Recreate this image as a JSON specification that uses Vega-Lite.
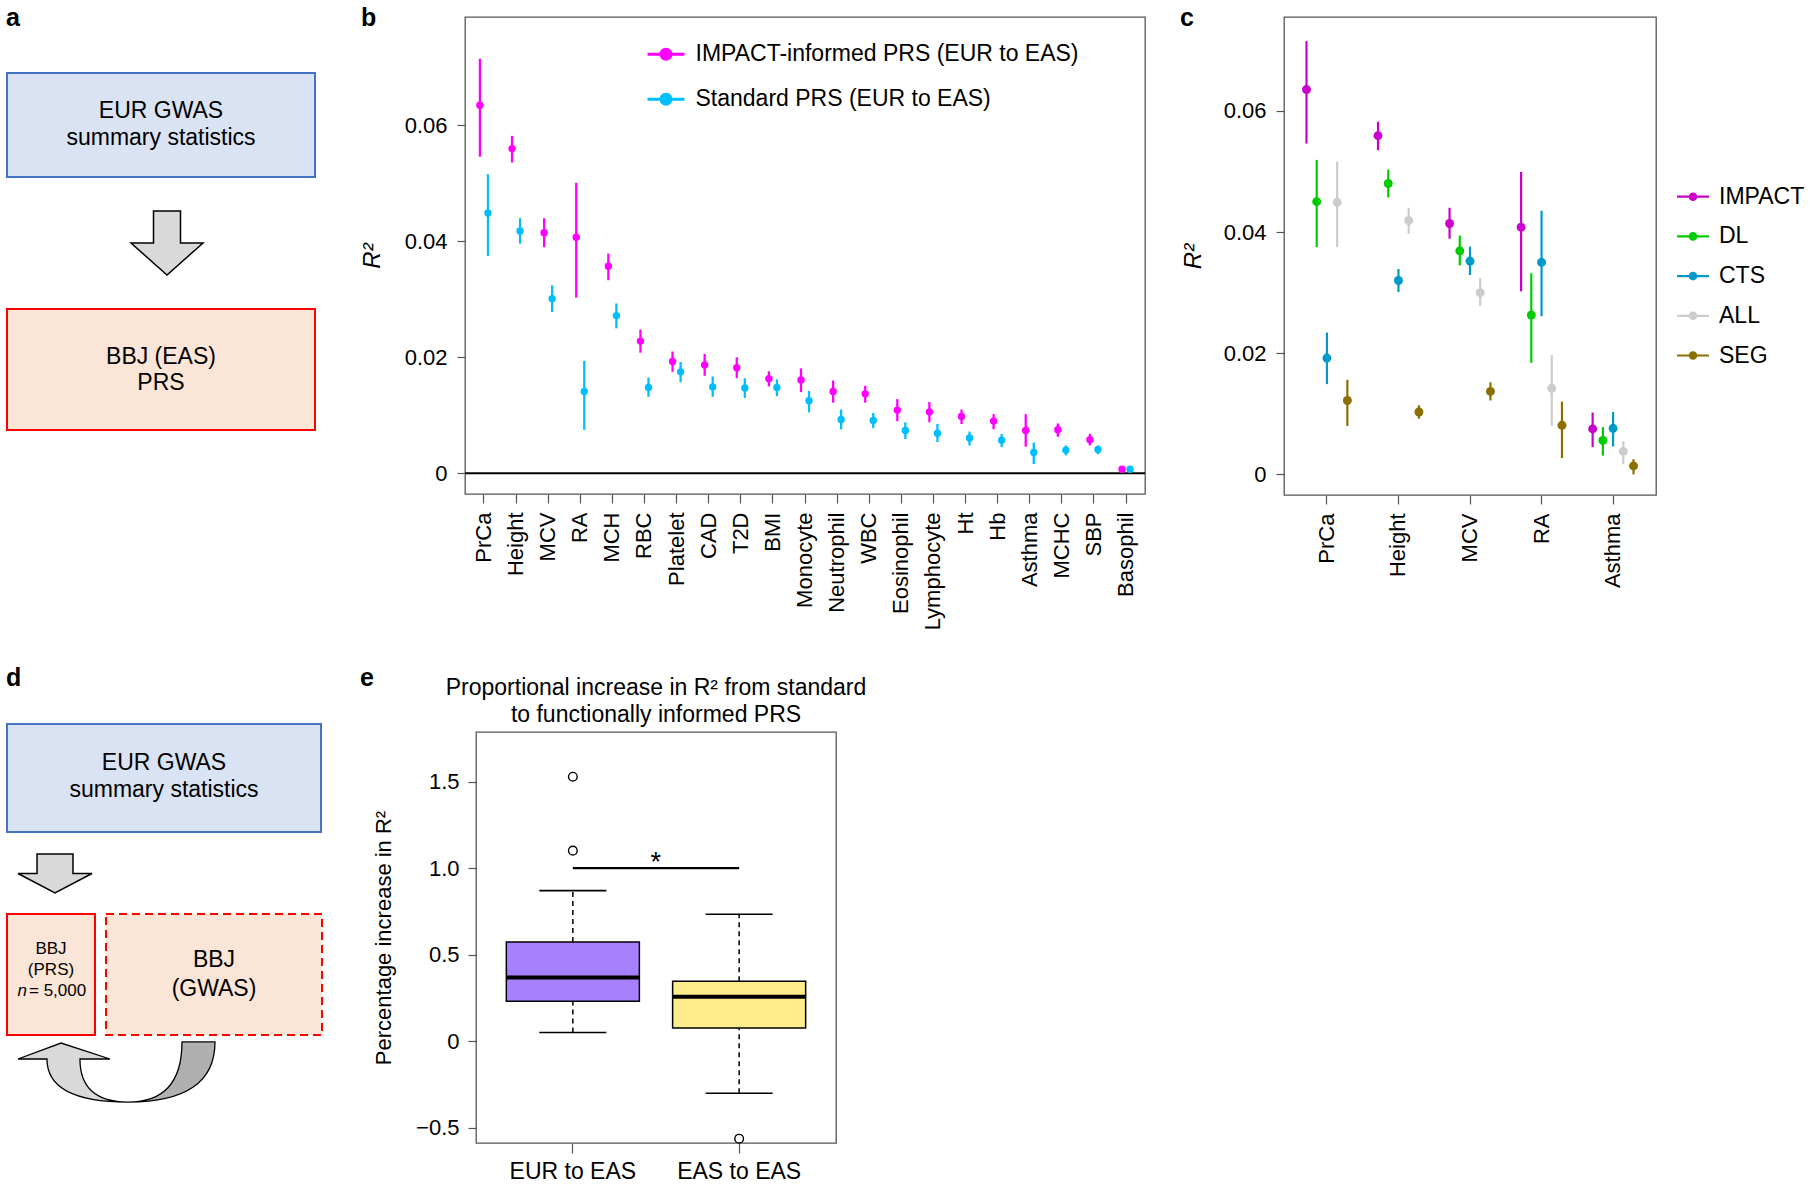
{
  "$schema": "https://vega.github.io/schema/vega-lite/v6.json",
  "padding": 0,
  "autosize": {"type": "pad"},
  "background": "white",
  "spacing": 9,
  "datasets": {
    "anchor_a": [{"x": 0, "x2": 1, "y": 0, "y2": 1}, {"x": 0, "x2": 1, "y": 650, "y2": 651}],
    "anchor_d": [{"x": 0, "x2": 1, "y": 660, "y2": 661}],
    "a_boxes": [
      {"kind": "EUR", "x": 7, "x2": 315, "y": 73, "y2": 177},
      {"kind": "BBJ", "x": 7, "x2": 315, "y": 309, "y2": 430}
    ],
    "a_arrow": [{"x": 167, "y": 243}],
    "a_text": [
      {"t": "EUR GWAS", "x": 161, "y": 111},
      {"t": "summary statistics", "x": 161, "y": 138},
      {"t": "BBJ (EAS)", "x": 161, "y": 357},
      {"t": "PRS", "x": 161, "y": 383}
    ],
    "letters_top": [
      {"t": "a", "x": 6, "y": 26},
      {"t": "b", "x": 361, "y": 26},
      {"t": "c", "x": 1180, "y": 26}
    ],
    "d_boxes": [
      {"kind": "EUR", "role": "sumstats", "x": 7, "x2": 321, "y": 724, "y2": 832},
      {"kind": "BBJ", "role": "PRS", "x": 7, "x2": 95, "y": 914, "y2": 1035},
      {"kind": "BBJ", "role": "GWAS", "x": 106, "x2": 322, "y": 914, "y2": 1035}
    ],
    "d_arrow": [{"x": 55, "y": 873.5}],
    "d_curve": [{"part": "left", "x": 116.5, "y": 1072}, {"part": "right", "x": 116.5, "y": 1072}],
    "d_text_big": [
      {"t": "EUR GWAS", "x": 164, "y": 763},
      {"t": "summary statistics", "x": 164, "y": 790},
      {"t": "BBJ", "x": 214, "y": 960},
      {"t": "(GWAS)", "x": 214, "y": 989}
    ],
    "d_text_small": [
      {"t": "BBJ", "x": 51, "y": 949},
      {"t": "(PRS)", "x": 51, "y": 970}
    ],
    "d_text_n": [{"t": "n", "x": 27, "y": 991}],
    "d_text_eq": [{"t": "= 5,000", "x": 29, "y": 991}],
    "letters_bottom": [
      {"t": "d", "x": 6, "y": 686},
      {"t": "e", "x": 360, "y": 686}
    ],
    "b": [
      {"trait": "PrCa", "method": "IMPACT", "r2": 0.0635, "lo": 0.0546, "hi": 0.0715},
      {"trait": "PrCa", "method": "Standard", "r2": 0.0449, "lo": 0.0375, "hi": 0.0516},
      {"trait": "Height", "method": "IMPACT", "r2": 0.0560, "lo": 0.0536, "hi": 0.0582},
      {"trait": "Height", "method": "Standard", "r2": 0.0418, "lo": 0.0396, "hi": 0.0440},
      {"trait": "MCV", "method": "IMPACT", "r2": 0.0415, "lo": 0.0390, "hi": 0.0440},
      {"trait": "MCV", "method": "Standard", "r2": 0.0301, "lo": 0.0278, "hi": 0.0324},
      {"trait": "RA", "method": "IMPACT", "r2": 0.0407, "lo": 0.0303, "hi": 0.0501},
      {"trait": "RA", "method": "Standard", "r2": 0.0141, "lo": 0.0075, "hi": 0.0194},
      {"trait": "MCH", "method": "IMPACT", "r2": 0.0357, "lo": 0.0333, "hi": 0.0379},
      {"trait": "MCH", "method": "Standard", "r2": 0.0272, "lo": 0.0250, "hi": 0.0293},
      {"trait": "RBC", "method": "IMPACT", "r2": 0.0228, "lo": 0.0208, "hi": 0.0248},
      {"trait": "RBC", "method": "Standard", "r2": 0.0148, "lo": 0.0132, "hi": 0.0165},
      {"trait": "Platelet", "method": "IMPACT", "r2": 0.0193, "lo": 0.0175, "hi": 0.0210},
      {"trait": "Platelet", "method": "Standard", "r2": 0.0175, "lo": 0.0157, "hi": 0.0192},
      {"trait": "CAD", "method": "IMPACT", "r2": 0.0187, "lo": 0.0168, "hi": 0.0206},
      {"trait": "CAD", "method": "Standard", "r2": 0.0149, "lo": 0.0132, "hi": 0.0167},
      {"trait": "T2D", "method": "IMPACT", "r2": 0.0182, "lo": 0.0164, "hi": 0.0200},
      {"trait": "T2D", "method": "Standard", "r2": 0.0147, "lo": 0.0130, "hi": 0.0164},
      {"trait": "BMI", "method": "IMPACT", "r2": 0.0163, "lo": 0.0150, "hi": 0.0176},
      {"trait": "BMI", "method": "Standard", "r2": 0.0148, "lo": 0.0133, "hi": 0.0162},
      {"trait": "Monocyte", "method": "IMPACT", "r2": 0.0161, "lo": 0.0140, "hi": 0.0181},
      {"trait": "Monocyte", "method": "Standard", "r2": 0.0125, "lo": 0.0105, "hi": 0.0142},
      {"trait": "Neutrophil", "method": "IMPACT", "r2": 0.0141, "lo": 0.0122, "hi": 0.0160},
      {"trait": "Neutrophil", "method": "Standard", "r2": 0.0093, "lo": 0.0076, "hi": 0.0110},
      {"trait": "WBC", "method": "IMPACT", "r2": 0.0137, "lo": 0.0122, "hi": 0.0151},
      {"trait": "WBC", "method": "Standard", "r2": 0.0091, "lo": 0.0078, "hi": 0.0104},
      {"trait": "Eosinophil", "method": "IMPACT", "r2": 0.0109, "lo": 0.0090, "hi": 0.0128},
      {"trait": "Eosinophil", "method": "Standard", "r2": 0.0074, "lo": 0.0059, "hi": 0.0088},
      {"trait": "Lymphocyte", "method": "IMPACT", "r2": 0.0106, "lo": 0.0088, "hi": 0.0123},
      {"trait": "Lymphocyte", "method": "Standard", "r2": 0.0069, "lo": 0.0054, "hi": 0.0085},
      {"trait": "Ht", "method": "IMPACT", "r2": 0.0098, "lo": 0.0085, "hi": 0.0110},
      {"trait": "Ht", "method": "Standard", "r2": 0.0061, "lo": 0.0048, "hi": 0.0072},
      {"trait": "Hb", "method": "IMPACT", "r2": 0.0090, "lo": 0.0076, "hi": 0.0102},
      {"trait": "Hb", "method": "Standard", "r2": 0.0057, "lo": 0.0045, "hi": 0.0068},
      {"trait": "Asthma", "method": "IMPACT", "r2": 0.0074, "lo": 0.0046, "hi": 0.0102},
      {"trait": "Asthma", "method": "Standard", "r2": 0.0036, "lo": 0.0016, "hi": 0.0053},
      {"trait": "MCHC", "method": "IMPACT", "r2": 0.0075, "lo": 0.0063, "hi": 0.0086},
      {"trait": "MCHC", "method": "Standard", "r2": 0.0040, "lo": 0.0031, "hi": 0.0048},
      {"trait": "SBP", "method": "IMPACT", "r2": 0.0058, "lo": 0.0048, "hi": 0.0068},
      {"trait": "SBP", "method": "Standard", "r2": 0.0041, "lo": 0.0033, "hi": 0.0048},
      {"trait": "Basophil", "method": "IMPACT", "r2": 0.0007, "lo": 0.0004, "hi": 0.0010},
      {"trait": "Basophil", "method": "Standard", "r2": 0.0007, "lo": 0.0004, "hi": 0.0010}
    ],
    "c": [
      {"trait": "PrCa", "annot": "IMPACT", "r2": 0.0635, "lo": 0.0546, "hi": 0.0715},
      {"trait": "PrCa", "annot": "DL", "r2": 0.0450, "lo": 0.0375, "hi": 0.0519},
      {"trait": "PrCa", "annot": "CTS", "r2": 0.0192, "lo": 0.0149, "hi": 0.0234},
      {"trait": "PrCa", "annot": "ALL", "r2": 0.0449, "lo": 0.0375, "hi": 0.0516},
      {"trait": "PrCa", "annot": "SEG", "r2": 0.0122, "lo": 0.0080, "hi": 0.0156},
      {"trait": "Height", "annot": "IMPACT", "r2": 0.0559, "lo": 0.0535, "hi": 0.0582},
      {"trait": "Height", "annot": "DL", "r2": 0.0480, "lo": 0.0457, "hi": 0.0503},
      {"trait": "Height", "annot": "CTS", "r2": 0.0320, "lo": 0.0301, "hi": 0.0339},
      {"trait": "Height", "annot": "ALL", "r2": 0.0419, "lo": 0.0397, "hi": 0.0440},
      {"trait": "Height", "annot": "SEG", "r2": 0.0103, "lo": 0.0092, "hi": 0.0114},
      {"trait": "MCV", "annot": "IMPACT", "r2": 0.0414, "lo": 0.0389, "hi": 0.0440},
      {"trait": "MCV", "annot": "DL", "r2": 0.0369, "lo": 0.0345, "hi": 0.0394},
      {"trait": "MCV", "annot": "CTS", "r2": 0.0352, "lo": 0.0329, "hi": 0.0376},
      {"trait": "MCV", "annot": "ALL", "r2": 0.0300, "lo": 0.0278, "hi": 0.0324},
      {"trait": "MCV", "annot": "SEG", "r2": 0.0137, "lo": 0.0122, "hi": 0.0152},
      {"trait": "RA", "annot": "IMPACT", "r2": 0.0408, "lo": 0.0302, "hi": 0.0499},
      {"trait": "RA", "annot": "DL", "r2": 0.0263, "lo": 0.0184, "hi": 0.0332},
      {"trait": "RA", "annot": "CTS", "r2": 0.0350, "lo": 0.0261, "hi": 0.0435},
      {"trait": "RA", "annot": "ALL", "r2": 0.0142, "lo": 0.0080, "hi": 0.0197},
      {"trait": "RA", "annot": "SEG", "r2": 0.0081, "lo": 0.0027, "hi": 0.0120},
      {"trait": "Asthma", "annot": "IMPACT", "r2": 0.0075, "lo": 0.0045, "hi": 0.0102},
      {"trait": "Asthma", "annot": "DL", "r2": 0.0056, "lo": 0.0031, "hi": 0.0078},
      {"trait": "Asthma", "annot": "CTS", "r2": 0.0076, "lo": 0.0046, "hi": 0.0103},
      {"trait": "Asthma", "annot": "ALL", "r2": 0.0038, "lo": 0.0017, "hi": 0.0055},
      {"trait": "Asthma", "annot": "SEG", "r2": 0.0014, "lo": 0.0000, "hi": 0.0025}
    ],
    "ebox": [
      {"group": "EUR to EAS", "lower": 0.051, "q1": 0.231, "median": 0.369, "q3": 0.574, "upper": 0.870},
      {"group": "EAS to EAS", "lower": -0.300, "q1": 0.077, "median": 0.257, "q3": 0.347, "upper": 0.734}
    ],
    "eout": [
      {"group": "EUR to EAS", "value": 1.528},
      {"group": "EUR to EAS", "value": 1.101},
      {"group": "EAS to EAS", "value": -0.562}
    ],
    "esig": [{"from": "EUR to EAS", "to": "EAS to EAS", "y": 1.0, "star": "*", "ystar": 1.03}]
  },
  "vconcat": [
    {
      "hconcat": [
        {
          "width": 321,
          "height": 477,
          "view": {"stroke": null},
          "layer": [
            {
              "data": {"name": "anchor_a"},
              "mark": {"type": "rect", "fill": "white"},
              "encoding": {
                "x": {"field": "x", "type": "quantitative", "scale": {"domain": [5, 326], "nice": false, "zero": false}, "axis": null},
                "x2": {"field": "x2"},
                "y": {"field": "y", "type": "quantitative", "scale": {"domain": [17, 494], "nice": false, "zero": false, "reverse": true}, "axis": null},
                "y2": {"field": "y2"}
              }
            },
            {
              "data": {"name": "a_boxes"},
              "mark": {"type": "rect", "strokeWidth": 2},
              "encoding": {
                "x": {"field": "x", "type": "quantitative", "scale": {"domain": [5, 326], "nice": false, "zero": false}, "axis": null},
                "x2": {"field": "x2"},
                "y": {"field": "y", "type": "quantitative", "scale": {"domain": [17, 494], "nice": false, "zero": false, "reverse": true}, "axis": null},
                "y2": {"field": "y2"},
                "fill": {"field": "kind", "type": "nominal", "scale": {"domain": ["EUR", "BBJ"], "range": ["#dae3f3", "#fbe5d6"]}, "legend": null},
                "stroke": {"field": "kind", "type": "nominal", "scale": {"domain": ["EUR", "BBJ"], "range": ["#4472c4", "#ff0000"]}, "legend": null}
              }
            },
            {
              "data": {"name": "a_arrow"},
              "mark": {"type": "point", "shape": "M-0.375,-0.89L0.375,-0.89L0.375,0L1,0L0,0.89L-1,0L-0.375,0Z", "filled": true, "fill": "#d9d9d9", "stroke": "#000", "strokeWidth": 1.5, "size": 5184, "opacity": 1},
              "encoding": {
                "x": {"field": "x", "type": "quantitative", "scale": {"domain": [5, 326], "nice": false, "zero": false}, "axis": null},
                "y": {"field": "y", "type": "quantitative", "scale": {"domain": [17, 494], "nice": false, "zero": false, "reverse": true}, "axis": null}
              }
            },
            {
              "data": {"name": "a_text"},
              "mark": {"type": "text", "fontSize": 23, "align": "center", "baseline": "middle", "color": "#000"},
              "encoding": {
                "x": {"field": "x", "type": "quantitative", "scale": {"domain": [5, 326], "nice": false, "zero": false}, "axis": null},
                "y": {"field": "y", "type": "quantitative", "scale": {"domain": [17, 494], "nice": false, "zero": false, "reverse": true}, "axis": null},
                "text": {"field": "t"}
              }
            },
            {
              "data": {"name": "letters_top"},
              "mark": {"type": "text", "fontSize": 25, "fontWeight": "bold", "align": "left", "baseline": "alphabetic", "color": "#000"},
              "encoding": {
                "x": {"field": "x", "type": "quantitative", "scale": {"domain": [5, 326], "nice": false, "zero": false}, "axis": null},
                "y": {"field": "y", "type": "quantitative", "scale": {"domain": [17, 494], "nice": false, "zero": false, "reverse": true}, "axis": null},
                "text": {"field": "t"}
              }
            }
          ]
        },
        {
          "width": 680,
          "height": 477,
          "view": {"stroke": "#555", "strokeWidth": 1.3},
          "layer": [
            {
              "data": {"values": [{"y": 0}]},
              "mark": {"type": "rule", "color": "#000", "strokeWidth": 2},
              "encoding": {
                "y": {"field": "y", "type": "quantitative", "scale": {"domain": [-0.00357, 0.0787], "nice": false, "zero": false}}
              }
            },
            {
              "data": {"name": "b"},
              "mark": {"type": "rule", "strokeWidth": 2.3},
              "encoding": {
                "x": {"field": "trait", "type": "nominal", "scale": {"domain": ["PrCa","Height","MCV","RA","MCH","RBC","Platelet","CAD","T2D","BMI","Monocyte","Neutrophil","WBC","Eosinophil","Lymphocyte","Ht","Hb","Asthma","MCHC","SBP","Basophil"], "paddingInner": 0, "paddingOuter": 0.09},
                  "axis": {"title": null, "labelAngle": -90, "labelAlign": "right", "labelBaseline": "middle", "tickSize": 9, "labelPadding": 9, "labelFontSize": 22}},
                "xOffset": {"field": "method", "type": "nominal", "scale": {"domain": ["IMPACT", "Standard"], "paddingInner": 0, "paddingOuter": 1.17}},
                "y": {"field": "lo", "type": "quantitative", "scale": {"domain": [-0.00357, 0.0787], "nice": false, "zero": false},
                  "axis": {"values": [0, 0.02, 0.04, 0.06], "labelExpr": "datum.value == 0 ? '0' : format(datum.value, '.2f')", "tickSize": 8, "labelPadding": 10, "labelFontSize": 22, "title": "R²", "titleFontStyle": "italic", "titleFontSize": 24, "titlePadding": 20}},
                "y2": {"field": "hi"},
                "color": {"field": "method", "type": "nominal", "scale": {"domain": ["IMPACT", "Standard"], "range": ["#ff00ff", "#00bfff"]}}
              }
            },
            {
              "data": {"name": "b"},
              "mark": {"type": "point", "filled": true, "size": 55, "opacity": 1},
              "encoding": {
                "x": {"field": "trait", "type": "nominal", "scale": {"domain": ["PrCa","Height","MCV","RA","MCH","RBC","Platelet","CAD","T2D","BMI","Monocyte","Neutrophil","WBC","Eosinophil","Lymphocyte","Ht","Hb","Asthma","MCHC","SBP","Basophil"], "paddingInner": 0, "paddingOuter": 0.09}},
                "xOffset": {"field": "method", "type": "nominal", "scale": {"domain": ["IMPACT", "Standard"], "paddingInner": 0, "paddingOuter": 1.17}},
                "y": {"field": "r2", "type": "quantitative", "scale": {"domain": [-0.00357, 0.0787], "nice": false, "zero": false}},
                "color": {"field": "method", "type": "nominal", "scale": {"domain": ["IMPACT", "Standard"], "range": ["#ff00ff", "#00bfff"]},
                  "legend": {"orient": "none", "legendX": 182.5, "legendY": 18.8, "title": null, "padding": 0,
                    "symbolType": "M-1,-0.08H1V0.08H-1Z M0.35,0A0.35,0.35 0 1,1 -0.35,0A0.35,0.35 0 1,1 0.35,0Z",
                    "symbolSize": 1369, "symbolStrokeWidth": 0, "symbolOpacity": 1, "labelFontSize": 23, "labelOffset": 11, "rowPadding": 14, "labelLimit": 600,
                    "labelExpr": "datum.label == 'IMPACT' ? 'IMPACT-informed PRS (EUR to EAS)' : 'Standard PRS (EUR to EAS)'"}}
              }
            }
          ]
        },
        {
          "width": 372,
          "height": 478,
          "view": {"stroke": "#555", "strokeWidth": 1.3},
          "layer": [
            {
              "data": {"name": "c"},
              "mark": {"type": "rule", "strokeWidth": 2.2},
              "encoding": {
                "x": {"field": "trait", "type": "nominal", "scale": {"domain": ["PrCa", "Height", "MCV", "RA", "Asthma"], "paddingInner": 0, "paddingOuter": 0.1},
                  "axis": {"title": null, "labelAngle": -90, "labelAlign": "right", "labelBaseline": "middle", "tickSize": 9, "labelPadding": 9, "labelFontSize": 22}},
                "xOffset": {"field": "annot", "type": "nominal", "scale": {"domain": ["IMPACT", "DL", "CTS", "ALL", "SEG"], "paddingInner": 0, "paddingOuter": 2.535}},
                "y": {"field": "lo", "type": "quantitative", "scale": {"domain": [-0.0034, 0.07548], "nice": false, "zero": false},
                  "axis": {"values": [0, 0.02, 0.04, 0.06], "labelExpr": "datum.value == 0 ? '0' : format(datum.value, '.2f')", "tickSize": 8, "labelPadding": 10, "labelFontSize": 22, "title": "R²", "titleFontStyle": "italic", "titleFontSize": 24, "titlePadding": 18}},
                "y2": {"field": "hi"},
                "color": {"field": "annot", "type": "nominal", "scale": {"domain": ["IMPACT", "DL", "CTS", "ALL", "SEG"], "range": ["#cc00cc", "#00cc00", "#0099cc", "#cccccc", "#8b7000"]}}
              }
            },
            {
              "data": {"name": "c"},
              "mark": {"type": "point", "filled": true, "size": 80, "opacity": 1},
              "encoding": {
                "x": {"field": "trait", "type": "nominal", "scale": {"domain": ["PrCa", "Height", "MCV", "RA", "Asthma"], "paddingInner": 0, "paddingOuter": 0.1}},
                "xOffset": {"field": "annot", "type": "nominal", "scale": {"domain": ["IMPACT", "DL", "CTS", "ALL", "SEG"], "paddingInner": 0, "paddingOuter": 2.535}},
                "y": {"field": "r2", "type": "quantitative", "scale": {"domain": [-0.0034, 0.07548], "nice": false, "zero": false}},
                "color": {"field": "annot", "type": "nominal", "scale": {"domain": ["IMPACT", "DL", "CTS", "ALL", "SEG"], "range": ["#cc00cc", "#00cc00", "#0099cc", "#cccccc", "#8b7000"]},
                  "legend": {"orient": "none", "legendX": 393, "legendY": 163.7, "title": null, "padding": 0,
                    "symbolType": "M-1,-0.07H1V0.07H-1Z M0.27,0A0.27,0.27 0 1,1 -0.27,0A0.27,0.27 0 1,1 0.27,0Z",
                    "symbolSize": 1024, "symbolStrokeWidth": 0, "symbolOpacity": 1, "labelFontSize": 23, "labelOffset": 10, "rowPadding": 11.7, "labelLimit": 300}}
              }
            }
          ]
        }
      ],
      "bounds": "flush",
      "spacing": 139,
      "resolve": {
        "scale": {"x": "independent", "y": "independent", "color": "independent", "fill": "independent", "stroke": "independent", "xOffset": "independent"},
        "axis": {"x": "independent", "y": "independent"},
        "legend": {"color": "independent", "fill": "independent", "stroke": "independent"}
      }
    },
    {
      "hconcat": [
        {
          "width": 332,
          "height": 411,
          "view": {"stroke": null},
          "layer": [
            {
              "data": {"name": "anchor_d"},
              "mark": {"type": "rect", "fill": "white"},
              "encoding": {
                "x": {"field": "x", "type": "quantitative", "scale": {"domain": [5, 337], "nice": false, "zero": false}, "axis": null},
                "x2": {"field": "x2"},
                "y": {"field": "y", "type": "quantitative", "scale": {"domain": [732, 1143], "nice": false, "zero": false, "reverse": true}, "axis": null},
                "y2": {"field": "y2"}
              }
            },
            {
              "data": {"name": "d_boxes"},
              "transform": [{"filter": "datum.role != 'GWAS'"}],
              "mark": {"type": "rect", "strokeWidth": 2},
              "encoding": {
                "x": {"field": "x", "type": "quantitative", "scale": {"domain": [5, 337], "nice": false, "zero": false}, "axis": null},
                "x2": {"field": "x2"},
                "y": {"field": "y", "type": "quantitative", "scale": {"domain": [732, 1143], "nice": false, "zero": false, "reverse": true}, "axis": null},
                "y2": {"field": "y2"},
                "fill": {"field": "kind", "type": "nominal", "scale": {"domain": ["EUR", "BBJ"], "range": ["#dae3f3", "#fbe5d6"]}, "legend": null},
                "stroke": {"field": "kind", "type": "nominal", "scale": {"domain": ["EUR", "BBJ"], "range": ["#4472c4", "#ff0000"]}, "legend": null}
              }
            },
            {
              "data": {"name": "d_boxes"},
              "transform": [{"filter": "datum.role == 'GWAS'"}],
              "mark": {"type": "rect", "strokeWidth": 2, "strokeDash": [8, 5]},
              "encoding": {
                "x": {"field": "x", "type": "quantitative", "scale": {"domain": [5, 337], "nice": false, "zero": false}, "axis": null},
                "x2": {"field": "x2"},
                "y": {"field": "y", "type": "quantitative", "scale": {"domain": [732, 1143], "nice": false, "zero": false, "reverse": true}, "axis": null},
                "y2": {"field": "y2"},
                "fill": {"field": "kind", "type": "nominal", "scale": {"domain": ["EUR", "BBJ"], "range": ["#dae3f3", "#fbe5d6"]}, "legend": null},
                "stroke": {"field": "kind", "type": "nominal", "scale": {"domain": ["EUR", "BBJ"], "range": ["#4472c4", "#ff0000"]}, "legend": null}
              }
            },
            {
              "data": {"name": "d_arrow"},
              "mark": {"type": "point", "shape": "M-0.486,-0.527L0.486,-0.527L0.486,0L1,0L0,0.527L-1,0L-0.486,0Z", "filled": true, "fill": "#d9d9d9", "stroke": "#000", "strokeWidth": 1.5, "size": 5476, "opacity": 1},
              "encoding": {
                "x": {"field": "x", "type": "quantitative", "scale": {"domain": [5, 337], "nice": false, "zero": false}, "axis": null},
                "y": {"field": "y", "type": "quantitative", "scale": {"domain": [732, 1143], "nice": false, "zero": false, "reverse": true}, "axis": null}
              }
            },
            {
              "data": {"name": "d_curve"},
              "transform": [{"filter": "datum.part == 'right'"}],
              "mark": {"type": "point", "shape": "M0.665,-0.305L1,-0.305Q1,0.305 0.117,0.305Q0.665,0.305 0.665,-0.305Z", "filled": true, "fill": "#b0b0b0", "stroke": "#000", "strokeWidth": 1.3, "size": 38809, "opacity": 1},
              "encoding": {
                "x": {"field": "x", "type": "quantitative", "scale": {"domain": [5, 337], "nice": false, "zero": false}, "axis": null},
                "y": {"field": "y", "type": "quantitative", "scale": {"domain": [732, 1143], "nice": false, "zero": false, "reverse": true}, "axis": null}
              }
            },
            {
              "data": {"name": "d_curve"},
              "transform": [{"filter": "datum.part == 'left'"}],
              "mark": {"type": "point", "shape": "M0.117,0.305Q-0.706,0.305 -0.706,-0.132L-1,-0.132L-0.563,-0.294L-0.066,-0.132L-0.371,-0.132Q-0.371,0.305 0.117,0.305Z", "filled": true, "fill": "#d9d9d9", "stroke": "#000", "strokeWidth": 1.3, "size": 38809, "opacity": 1},
              "encoding": {
                "x": {"field": "x", "type": "quantitative", "scale": {"domain": [5, 337], "nice": false, "zero": false}, "axis": null},
                "y": {"field": "y", "type": "quantitative", "scale": {"domain": [732, 1143], "nice": false, "zero": false, "reverse": true}, "axis": null}
              }
            },
            {
              "data": {"name": "d_text_big"},
              "mark": {"type": "text", "fontSize": 23, "align": "center", "baseline": "middle", "color": "#000"},
              "encoding": {
                "x": {"field": "x", "type": "quantitative", "scale": {"domain": [5, 337], "nice": false, "zero": false}, "axis": null},
                "y": {"field": "y", "type": "quantitative", "scale": {"domain": [732, 1143], "nice": false, "zero": false, "reverse": true}, "axis": null},
                "text": {"field": "t"}
              }
            },
            {
              "data": {"name": "d_text_small"},
              "mark": {"type": "text", "fontSize": 17, "align": "center", "baseline": "middle", "color": "#000"},
              "encoding": {
                "x": {"field": "x", "type": "quantitative", "scale": {"domain": [5, 337], "nice": false, "zero": false}, "axis": null},
                "y": {"field": "y", "type": "quantitative", "scale": {"domain": [732, 1143], "nice": false, "zero": false, "reverse": true}, "axis": null},
                "text": {"field": "t"}
              }
            },
            {
              "data": {"name": "d_text_n"},
              "mark": {"type": "text", "fontSize": 17, "fontStyle": "italic", "align": "right", "baseline": "middle", "color": "#000"},
              "encoding": {
                "x": {"field": "x", "type": "quantitative", "scale": {"domain": [5, 337], "nice": false, "zero": false}, "axis": null},
                "y": {"field": "y", "type": "quantitative", "scale": {"domain": [732, 1143], "nice": false, "zero": false, "reverse": true}, "axis": null},
                "text": {"field": "t"}
              }
            },
            {
              "data": {"name": "d_text_eq"},
              "mark": {"type": "text", "fontSize": 17, "align": "left", "baseline": "middle", "color": "#000"},
              "encoding": {
                "x": {"field": "x", "type": "quantitative", "scale": {"domain": [5, 337], "nice": false, "zero": false}, "axis": null},
                "y": {"field": "y", "type": "quantitative", "scale": {"domain": [732, 1143], "nice": false, "zero": false, "reverse": true}, "axis": null},
                "text": {"field": "t"}
              }
            },
            {
              "data": {"name": "letters_bottom"},
              "mark": {"type": "text", "fontSize": 25, "fontWeight": "bold", "align": "left", "baseline": "alphabetic", "color": "#000"},
              "encoding": {
                "x": {"field": "x", "type": "quantitative", "scale": {"domain": [5, 337], "nice": false, "zero": false}, "axis": null},
                "y": {"field": "y", "type": "quantitative", "scale": {"domain": [732, 1143], "nice": false, "zero": false, "reverse": true}, "axis": null},
                "text": {"field": "t"}
              }
            }
          ]
        },
        {
          "width": 360,
          "height": 411,
          "view": {"stroke": "#555", "strokeWidth": 1.3},
          "title": {"text": ["Proportional increase in R² from standard", "to functionally informed PRS"], "fontSize": 23, "fontWeight": "normal", "anchor": "middle", "frame": "group", "offset": 5.5, "lineHeight": 27},
          "layer": [
            {
              "data": {"name": "ebox"},
              "mark": {"type": "rule", "strokeWidth": 1.5, "strokeDash": [5, 4], "color": "#000"},
              "encoding": {
                "x": {"field": "group", "type": "nominal", "scale": {"domain": ["EUR to EAS", "EAS to EAS"], "paddingInner": 0.2, "paddingOuter": 0.1824},
                  "axis": {"title": null, "labelAngle": 0, "tickSize": 10, "labelPadding": 7, "labelFontSize": 23}},
                "y": {"field": "lower", "type": "quantitative", "scale": {"domain": [-0.587, 1.786], "nice": false, "zero": false},
                  "axis": {"values": [-0.5, 0, 0.5, 1.0, 1.5], "labelExpr": "datum.value == 0 ? '0' : replace(format(datum.value, '.1f'), '-', '−')", "tickSize": 8, "labelPadding": 9, "labelFontSize": 22, "title": "Percentage increase in R²", "titleFontSize": 22, "titlePadding": 20}},
                "y2": {"field": "q1"}
              }
            },
            {
              "data": {"name": "ebox"},
              "mark": {"type": "rule", "strokeWidth": 1.5, "strokeDash": [5, 4], "color": "#000"},
              "encoding": {
                "x": {"field": "group", "type": "nominal", "scale": {"domain": ["EUR to EAS", "EAS to EAS"], "paddingInner": 0.2, "paddingOuter": 0.1824}},
                "y": {"field": "q3", "type": "quantitative", "scale": {"domain": [-0.587, 1.786], "nice": false, "zero": false}},
                "y2": {"field": "upper"}
              }
            },
            {
              "data": {"name": "ebox"},
              "mark": {"type": "tick", "orient": "horizontal", "size": 67, "thickness": 1.6, "color": "#000", "opacity": 1},
              "encoding": {
                "x": {"field": "group", "type": "nominal", "scale": {"domain": ["EUR to EAS", "EAS to EAS"], "paddingInner": 0.2, "paddingOuter": 0.1824}},
                "y": {"field": "lower", "type": "quantitative", "scale": {"domain": [-0.587, 1.786], "nice": false, "zero": false}}
              }
            },
            {
              "data": {"name": "ebox"},
              "mark": {"type": "tick", "orient": "horizontal", "size": 67, "thickness": 1.6, "color": "#000", "opacity": 1},
              "encoding": {
                "x": {"field": "group", "type": "nominal", "scale": {"domain": ["EUR to EAS", "EAS to EAS"], "paddingInner": 0.2, "paddingOuter": 0.1824}},
                "y": {"field": "upper", "type": "quantitative", "scale": {"domain": [-0.587, 1.786], "nice": false, "zero": false}}
              }
            },
            {
              "data": {"name": "ebox"},
              "mark": {"type": "bar", "stroke": "#000", "strokeWidth": 1.5, "opacity": 1},
              "encoding": {
                "x": {"field": "group", "type": "nominal", "scale": {"domain": ["EUR to EAS", "EAS to EAS"], "paddingInner": 0.2, "paddingOuter": 0.1824}},
                "y": {"field": "q1", "type": "quantitative", "scale": {"domain": [-0.587, 1.786], "nice": false, "zero": false}},
                "y2": {"field": "q3"},
                "fill": {"field": "group", "type": "nominal", "scale": {"domain": ["EUR to EAS", "EAS to EAS"], "range": ["#a680ff", "#ffec8b"]}, "legend": null}
              }
            },
            {
              "data": {"name": "ebox"},
              "mark": {"type": "tick", "orient": "horizontal", "size": 133, "thickness": 4, "color": "#000", "opacity": 1},
              "encoding": {
                "x": {"field": "group", "type": "nominal", "scale": {"domain": ["EUR to EAS", "EAS to EAS"], "paddingInner": 0.2, "paddingOuter": 0.1824}},
                "y": {"field": "median", "type": "quantitative", "scale": {"domain": [-0.587, 1.786], "nice": false, "zero": false}}
              }
            },
            {
              "data": {"name": "eout"},
              "mark": {"type": "point", "filled": false, "shape": "circle", "size": 75, "stroke": "#000", "strokeWidth": 1.4, "opacity": 1},
              "encoding": {
                "x": {"field": "group", "type": "nominal", "scale": {"domain": ["EUR to EAS", "EAS to EAS"], "paddingInner": 0.2, "paddingOuter": 0.1824}},
                "y": {"field": "value", "type": "quantitative", "scale": {"domain": [-0.587, 1.786], "nice": false, "zero": false}}
              }
            },
            {
              "data": {"name": "esig"},
              "mark": {"type": "rule", "strokeWidth": 2.4, "color": "#000"},
              "encoding": {
                "x": {"field": "from", "type": "nominal", "scale": {"domain": ["EUR to EAS", "EAS to EAS"], "paddingInner": 0.2, "paddingOuter": 0.1824}},
                "x2": {"field": "to"},
                "y": {"field": "y", "type": "quantitative", "scale": {"domain": [-0.587, 1.786], "nice": false, "zero": false}}
              }
            },
            {
              "data": {"name": "esig"},
              "mark": {"type": "text", "fontSize": 27, "dx": 83, "align": "center", "baseline": "middle", "color": "#000"},
              "encoding": {
                "x": {"field": "from", "type": "nominal", "scale": {"domain": ["EUR to EAS", "EAS to EAS"], "paddingInner": 0.2, "paddingOuter": 0.1824}},
                "y": {"field": "ystar", "type": "quantitative", "scale": {"domain": [-0.587, 1.786], "nice": false, "zero": false}},
                "text": {"field": "star"}
              }
            }
          ]
        }
      ],
      "bounds": "flush",
      "spacing": 139,
      "resolve": {
        "scale": {"x": "independent", "y": "independent", "fill": "independent", "stroke": "independent"},
        "axis": {"x": "independent", "y": "independent"},
        "legend": {"fill": "independent", "stroke": "independent"}
      }
    }
  ],
  "resolve": {
    "scale": {"x": "independent", "y": "independent", "color": "independent", "fill": "independent", "stroke": "independent", "xOffset": "independent"},
    "axis": {"x": "independent", "y": "independent"},
    "legend": {"color": "independent", "fill": "independent", "stroke": "independent"}
  },
  "config": {
    "font": "Liberation Sans",
    "view": {"stroke": null},
    "axis": {"grid": false, "domain": false, "tickColor": "#555", "tickWidth": 1.2, "labelColor": "#000", "titleColor": "#000", "labelFont": "Liberation Sans", "titleFont": "Liberation Sans", "titleFontWeight": "normal", "labelFontSize": 22, "titleFontSize": 22, "labelOverlap": false},
    "legend": {"labelFont": "Liberation Sans", "labelColor": "#000"},
    "title": {"font": "Liberation Sans", "fontWeight": "normal", "color": "#000"},
    "text": {"font": "Liberation Sans", "color": "#000"}
  }
}
